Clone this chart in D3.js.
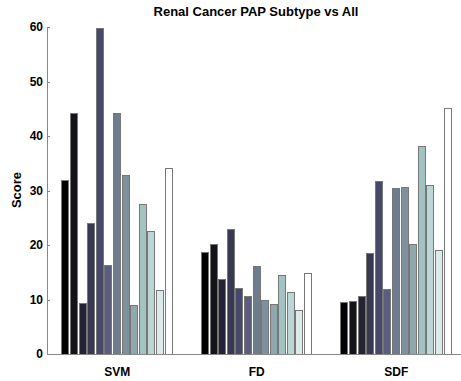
<!DOCTYPE html>
<html lang="en">
<head>
    <meta charset="utf-8">
    <title>Renal Cancer PAP Subtype vs All</title>
    <style>
        body { margin: 0; background: #fff; }
        svg { display: block; font-family: "Liberation Sans", Arial, sans-serif; }
        .axis path, .axis line { fill: none; stroke: #888; shape-rendering: crispEdges; }
        .axis text { font-size: 12px; font-weight: bold; fill: #000; }
        .bar { stroke: #777; stroke-width: 1px; shape-rendering: crispEdges; }
    </style>
</head>
<body>
<svg width="461" height="381"></svg>
<script src="https://cdn.jsdelivr.net/npm/d3@7"></script>
<script>
    // data
    const groups = ["SVM", "FD", "SDF"];
    const svmScores = [32, 44.2, 9.4, 24.1, 59.8, 16.3, 44.2, 32.9, 9, 27.5, 22.6, 11.7, 34.1];
    const fdScores = [18.7, 20.1, 13.7, 22.9, 12.2, 10.7, 16.2, 10, 9.2, 14.5, 11.4, 8.1, 14.8];
    const sdfScores = [9.5, 9.7, 10.7, 18.6, 31.7, 12, 30.5, 30.7, 20.1, 38.1, 31.1, 19, 45.1];
    const yTicks = [0, 10, 20, 30, 40, 50, 60];

    // bone-like colormap, one colour per bar in a group
    const barColors = ["#000000", "#131319", "#232333", "#383850", "#48486a", "#5c5c7c",
        "#6d7d8d", "#7f919f", "#91a7ae", "#a2c3c2", "#bcd5d5", "#dceaea", "#ffffff"];

    const allScores = [svmScores, fdScores, sdfScores];
    const nBars = svmScores.length;

    const svg = d3.select("svg");

    // outer scale: group positions 1..3, axis limits 0.5..3.5
    const x = d3.scaleLinear().domain([0.5, 3.5]).range([47, 465.5]);
    const unit = x(1) - x(0);
    const y = d3.scaleLinear().domain([0, 60]).range([354, 27]);

    // inner scale for bars within a group (group width 0.8)
    const xInner = d3.scaleBand()
        .domain(d3.range(nBars))
        .range([-0.4 * unit, 0.4 * unit])
        .paddingInner(0.13)
        .paddingOuter(0.06);

    // bars
    allScores.forEach(function (scores, gi) {
        svg.append("g")
            .selectAll("rect")
            .data(scores)
            .enter()
            .append("rect")
            .attr("class", "bar")
            .attr("x", (d, i) => Math.round(x(gi + 1) + xInner(i)) + 0.5)
            .attr("width", Math.round(xInner.bandwidth()))
            .attr("y", d => Math.round(y(d)) + 0.5)
            .attr("height", d => Math.round(y(0)) - Math.round(y(d)))
            .attr("fill", (d, i) => barColors[i]);
    });

    // y axis
    svg.append("g")
        .attr("class", "axis")
        .attr("transform", "translate(47,0)")
        .call(d3.axisRight(y).tickValues(yTicks).tickSize(3).tickSizeOuter(0).tickFormat(d3.format("d")))
        .call(g => g.selectAll("text").attr("x", -4).attr("text-anchor", "end"));

    // x axis
    const xAxis = svg.append("g")
        .attr("class", "axis")
        .attr("transform", "translate(0,354)")
        .call(d3.axisBottom(x).tickValues([1, 2, 3]).tickSize(0).tickSizeOuter(0)
            .tickFormat((d, i) => groups[i]));
    xAxis.selectAll("text").attr("dy", "0").attr("y", 22);

    // title
    svg.append("text")
        .attr("x", 256)
        .attr("y", 16)
        .attr("text-anchor", "middle")
        .style("font-size", "13px")
        .style("font-weight", "bold")
        .text("Renal Cancer PAP Subtype vs All");

    // y label
    svg.append("text")
        .attr("transform", "translate(21,190) rotate(-90)")
        .attr("text-anchor", "middle")
        .style("font-size", "13px")
        .style("font-weight", "bold")
        .text("Score");
</script>
</body>
</html>
